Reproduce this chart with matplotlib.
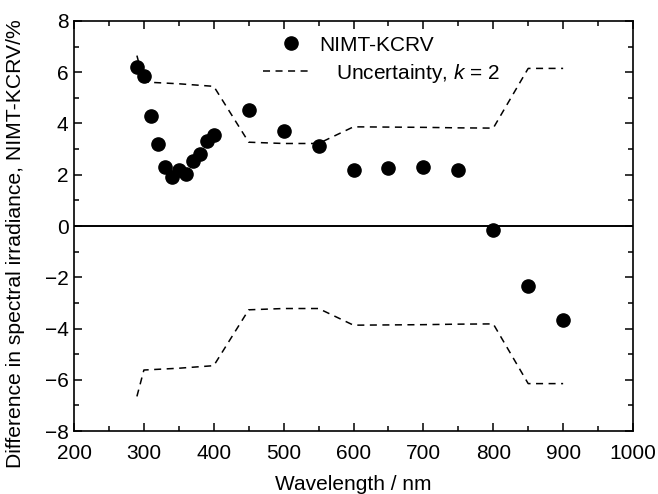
import matplotlib
matplotlib.use("Agg")
import matplotlib.pyplot as plt
from matplotlib.ticker import MultipleLocator

plt.rcParams['font.family'] = ['Liberation Sans', 'DejaVu Sans']
plt.rcParams['mathtext.fontset'] = 'custom'
plt.rcParams['mathtext.it'] = 'Liberation Sans:italic'
plt.rcParams['mathtext.rm'] = 'Liberation Sans'

wavelength = [290, 300, 310, 320, 330, 340, 350, 360, 370, 380, 390, 400,
              450, 500, 550, 600, 650, 700, 750, 800, 850, 900]
difference = [6.21, 5.85, 4.30, 3.19, 2.32, 1.93, 2.19, 2.02, 2.53, 2.80, 3.31, 3.55,
              4.54, 3.72, 3.12, 2.20, 2.25, 2.30, 2.20, -0.16, -2.34, -3.68]

unc_wavelength = [290, 300, 350, 400, 450, 500, 550, 600, 650, 700, 750, 800, 850, 900]
unc_value = [6.65, 5.62, 5.55, 5.45, 3.27, 3.22, 3.22, 3.87, 3.86, 3.85, 3.83, 3.82, 6.15, 6.15]

fig = plt.figure(figsize=(6.58, 4.94), dpi=100)
ax = fig.add_axes([0.1125, 0.1275, 0.8495, 0.83])

ax.axhline(0, color='black', lw=1.4, zorder=1)
pts, = ax.plot(wavelength, difference, 'o', color='black', markersize=9.5,
               label='NIMT-KCRV', zorder=3)
unc, = ax.plot(unc_wavelength, unc_value, '--', color='black', lw=1.1, dashes=(4.6, 3.6),
               label='Uncertainty, $k$ = 2', zorder=2)
ax.plot(unc_wavelength, [-v for v in unc_value], '--', color='black', lw=1.1,
        dashes=(4.6, 3.6), zorder=2)

ax.set_xlim(200, 1000)
ax.set_ylim(-8, 8)
ax.xaxis.set_major_locator(MultipleLocator(100))
ax.xaxis.set_minor_locator(MultipleLocator(50))
ax.yaxis.set_major_locator(MultipleLocator(2))
ax.yaxis.set_minor_locator(MultipleLocator(1))
ax.tick_params(which='both', direction='in', top=True, right=True, labelsize=15, width=1.1)
ax.tick_params(which='major', length=6)
ax.tick_params(which='minor', length=3.5)
ax.tick_params(axis='x', pad=9)
ax.tick_params(axis='y', pad=4)
for s in ax.spines.values():
    s.set_linewidth(1.2)

ax.set_xlabel('Wavelength / nm', fontsize=15, labelpad=9)
ax.set_ylabel('Difference in spectral irradiance, NIMT-KCRV/%', fontsize=15.2)
ax.yaxis.set_label_coords(-0.087, 0.456)

leg1 = ax.legend(handles=[pts], loc='center left', bbox_to_anchor=(0.369, 0.941),
                 frameon=False, fontsize=15, handlelength=1.0, handletextpad=0.86,
                 borderpad=0, borderaxespad=0)
ax.add_artist(leg1)
ax.legend(handles=[unc], loc='center left', bbox_to_anchor=(0.338, 0.873),
          frameon=False, fontsize=15, handlelength=2.4, handletextpad=1.1,
          borderpad=0, borderaxespad=0)

fig.savefig('out.png', dpi=100)
